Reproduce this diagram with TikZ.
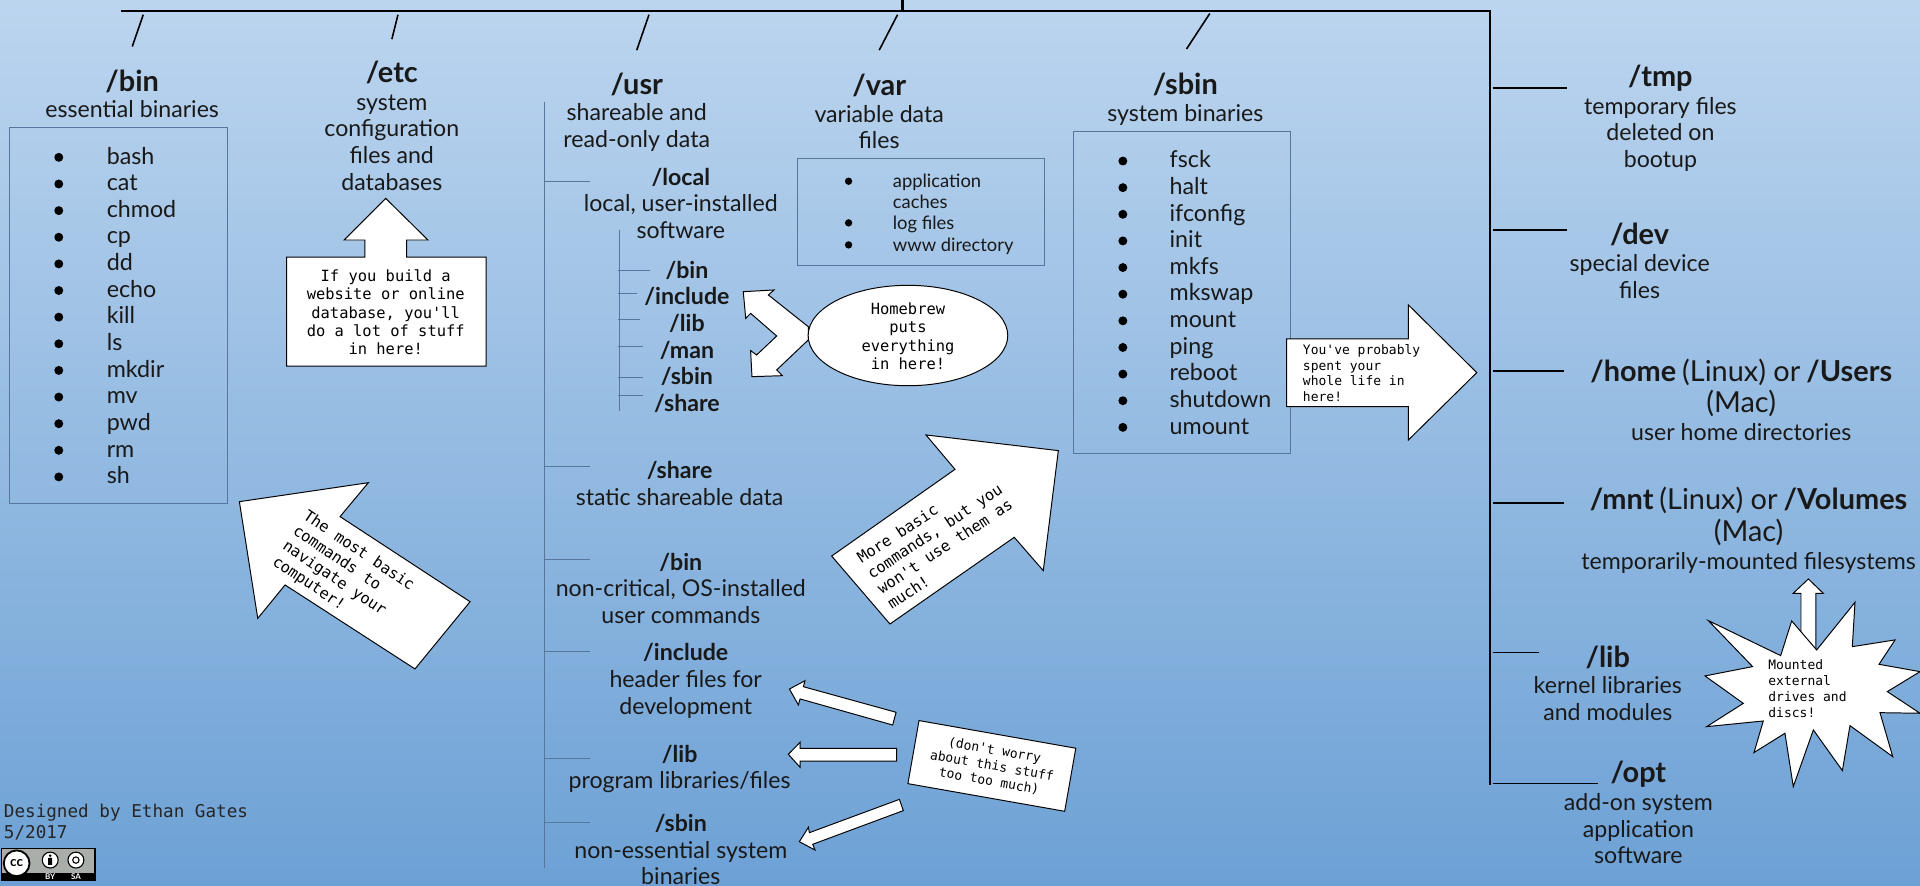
\documentclass[tikz,border=0pt]{standalone}
\usepackage{fontspec}
\usetikzlibrary{shapes.geometric}
\setmainfont{Lato}
\setmonofont{DejaVu Sans Mono}
\definecolor{bgtop}{HTML}{BCD5EF}
\definecolor{bgbot}{HTML}{6DA1D5}
\definecolor{hair}{HTML}{56779B}
\definecolor{ccgray}{HTML}{AAAEAA}
\newcommand{\hd}[1]{{\bfseries\fontsize{23.6}{24}\selectfont #1}}
\newcommand{\shd}[1]{{\bfseries #1}}
\newcommand{\bglarge}[1]{{\fontsize{23.6}{24}\selectfont #1}}
\tikzset{
  bus/.style={line width=1.8pt,black},
  tick/.style={line width=1.3pt,black},
  hairline/.style={line width=0.7pt,hair},
  lbl/.style={align=center,inner sep=0pt,text=black!90,font=\fontsize{18.9}{21.75}\selectfont},
  listbox/.style={draw=hair,line width=0.7pt,inner sep=0pt},
  listitem/.style={anchor=west,inner sep=0pt,text height=13pt,text depth=3pt,text=black!90,font=\fontsize{19}{21.75}\selectfont},
  listdot/.style={circle,fill=black,inner sep=0pt,minimum size=7.3pt},
  callout/.style={draw=black,fill=white,line width=0.8pt,line join=miter},
  say/.style={inner sep=0pt,text=black,font=\ttfamily\fontsize{12.6}{15}\selectfont},
  saysmall/.style={say,font=\ttfamily\fontsize{10.6}{12.8}\selectfont},
}
% one bullet list, items 21.75 apart
\newcommand{\bulletlist}[5]{
  \foreach \t [count=\i from 0] in {#5} {
    \node[listitem] (#1item\i) at (#3,{#4+21.75*\i}) {\t};
    \node[listdot] (#1dot\i) at (#2,{#4+21.75*\i-0.5}) {};
  }
}
\begin{document}
\begin{tikzpicture}[x=1pt,y=-1pt]
  \useasboundingbox (0,0) rectangle (1568,723);
  \shade[top color=bgtop,bottom color=bgbot] (0,0) rectangle (1568,723);

  % root line
  \coordinate (root) at (737,0);
  \coordinate (rootj) at (737,9);
  \coordinate (busw) at (99,9);
  \coordinate (buse) at (1217,9);
  \coordinate (busend) at (1217,641);
  \draw[bus] (busw) -- (buse) -- (busend);
  \draw[bus] (root) -- (rootj);
  \foreach \n/\xa/\ya/\xb/\yb in {bin/117/12/108/38,etc/325/12/320/32,usr/530/12/520/41,var/733/12/718/41,sbin/988/11/969/40} {
    \coordinate (\n top) at (\xa,\ya);
    \coordinate (\n low) at (\xb,\yb);
    \draw[tick] (\n top) -- (\n low);
  }
  \foreach \n/\y/\xe in {tmp/72/1280,dev/188/1280,home/303/1277,mnt/411/1277,lib/533/1257,opt/640/1305} {
    \coordinate (\n a) at (1219,\y);
    \coordinate (\n b) at (\xe,\y);
    \draw[tick] (\n a) -- (\n b);
  }

  % /usr tree
  \coordinate (usrtop) at (445,83);
  \coordinate (usrend) at (445,709);
  \draw[hairline] (usrtop) -- (usrend);
  \foreach \n/\y in {local/148,share/381,ubin/457,include/532,ulib/619,usbin/672} {
    \coordinate (\n a) at (445,\y);
    \coordinate (\n b) at (482,\y);
    \draw[hairline] (\n a) -- (\n b);
  }
  \coordinate (loctop) at (506,188);
  \coordinate (locend) at (506,336);
  \draw[hairline] (loctop) -- (locend);
  \foreach \n/\y/\xe in {lbin/221/531,linc/240/520,llib/261/523,lman/283/525,lsbin/308/525,lshare/323/525} {
    \coordinate (\n a) at (505,\y);
    \coordinate (\n b) at (\xe,\y);
    \draw[hairline] (\n a) -- (\n b);
  }

  % /bin
  \node[lbl] (bin) at (108,76.5) {\hd{/bin}\\essential binaries};
  \node[listbox,minimum width=178pt,minimum height=307pt] (binbox) at (97,257.5) {};
  \bulletlist{bin}{48}{87}{129}{bash,cat,chmod,cp,dd,echo,kill,ls,mkdir,mv,pwd,rm,sh}

  % /etc
  \draw[callout] (234,210) -- (298,210) -- (298,196) -- (281,196) -- (315,162) -- (349.5,196) -- (332,196) -- (332,210) -- (397,210) -- (397,299) -- (234,299) -- cycle;
  \node[lbl] (etc) at (320,102.5) {\hd{/etc}\\[1pt]system\\configuration\\files and\\databases};
  \node[say,align=center] (etcsay) at (315,255) {If you build a\\website or online\\database, you'll\\do a lot of stuff\\in here!};

  % /usr
  \node[lbl] (usr) at (520,91.5) {\hd{/usr}\\shareable and\\read-only data};
  \node[lbl] (local) at (556,166) {\shd{/local}\\local, user-installed\\software};
  \node[lbl] (lsub) at (561,275) {\shd{/bin}\\\shd{/include}\\\shd{/lib}\\\shd{/man}\\\shd{/sbin}\\\shd{/share}};
  \node[lbl] (ushare) at (555,395) {\shd{/share}\\static shareable data};
  \node[lbl] (ubin) at (556,480.5) {\shd{/bin}\\non-critical, OS-installed\\user commands};
  \node[lbl] (uinc) at (560,556) {\shd{/include}\\header files for\\development};
  \node[lbl] (ulib) at (555,628) {\shd{/lib}\\program libraries/files};
  \node[lbl] (usbin) at (556,694) {\shd{/sbin}\\non-essential system\\binaries};

  % /var
  \node[lbl] (var) at (718,91) {\hd{/var}\\variable data\\files};
  \node[listbox,minimum width=202pt,minimum height=88pt] (varbox) at (752,173) {};
  \node[listitem,align=left,text height=,text depth=,font=\fontsize{15}{17}\selectfont] (varitem0) at (729,156.5) {application\\caches};
  \node[listitem,font=\fontsize{15}{17}\selectfont] (varitem1) at (729,182.5) {log files};
  \node[listitem,font=\fontsize{15}{17}\selectfont] (varitem2) at (729,200.5) {www directory};
  \foreach \y [count=\i] in {148,182,200} {
    \node[listdot,minimum size=6pt] (vardot\i) at (693,\y) {};
  }

  % /sbin
  \node[lbl] (sbin) at (968,81) {\hd{/sbin}\\system binaries};
  \node[listbox,minimum width=177pt,minimum height=263pt] (sbinbox) at (965.5,238.5) {};
  \bulletlist{sbin}{917}{955}{132}{fsck,halt,ifconfig,init,mkfs,mkswap,mount,ping,reboot,shutdown,umount}

  % homebrew
  \draw[callout] (660.1,266.8) -- (627.5,240.9) -- (632.1,236.8) -- (607,238.2) -- (609,260) -- (613,255.9) -- (634.3,274.4) -- (617.9,289.9) -- (613,286.3) -- (614.1,307.6) -- (638.9,306.8) -- (634.3,302.1) -- (660.1,277.6) -- cycle;
  \node[callout,ellipse,minimum width=163pt,minimum height=82pt,inner sep=0pt] (brew) at (741.5,274) {};
  \node[say,align=center] (brewsay) at (741.5,274.5) {Homebrew\\puts\\everything\\in here!};

  % big arrows
  \draw[callout] (195.5,409.7) -- (300.8,394.2) -- (277.7,421.9) -- (383.9,491.4) -- (338.9,546.3) -- (232.8,477.7) -- (210.5,505) -- cycle;
  \node[say,align=left,rotate=-33.9] (navsay) at (280.3,468.7) {The most basic\\commands to\\navigate your\\computer!};
  \draw[callout] (756.2,355.2) -- (864.3,368) -- (852,466) -- (828.3,438.8) -- (726.8,509.6) -- (679.2,454.1) -- (779.9,383.3) -- cycle;
  \node[say,align=left,rotate=33.4] (moresay) at (767.4,439.9) {More basic\\commands, but you\\won't use them as\\much!};
  \draw[callout] (1050.8,276.8) -- (1150.2,276.8) -- (1150.2,249) -- (1206,304.3) -- (1150.2,359.3) -- (1150.2,332) -- (1050.8,332) -- cycle;
  \node[saysmall,align=left,anchor=west] (lifesay) at (1063.9,304.8) {You've probably\\spent your\\whole life in\\here!};

  % dont worry
  \draw[callout] (644.7,562.7) -- (657.4,555.9) -- (656.1,560.8) -- (731.8,581.7) -- (729,592.1) -- (653.4,570.8) -- (652,575.7) -- cycle;
  \draw[callout] (643.8,616) -- (653.4,606.2) -- (653.4,611.1) -- (732.3,611.1) -- (732.3,621.5) -- (653.4,621.5) -- (653.4,626.6) -- cycle;
  \draw[callout] (652.8,687.4) -- (660.2,675.6) -- (661,680) -- (734.5,652.8) -- (737.7,662) -- (663.7,689.5) -- (665.6,694.2) -- cycle;
  \node[callout,saysmall,text=black,align=center,rotate=-10,minimum width=130pt,minimum height=52.3pt] (worry) at (810,625.5) {(don't worry\\about this stuff\\too too much)};

  % right column
  \node[lbl] (tmp) at (1356,96.5) {\hd{/tmp}\\[1pt]temporary files\\deleted on\\bootup};
  \node[lbl] (dev) at (1339,213) {\hd{/dev}\\special device\\files};
  \node[lbl] (home) at (1422,326.5) {\hd{/home} \bglarge{(Linux) or} \hd{/Users}\\[3pt]\bglarge{(Mac)}\\[1pt]user home directories};
  \node[lbl] (mnt) at (1428,433) {\hd{/mnt} \bglarge{(Linux) or} \hd{/Volumes}\\[3pt]\bglarge{(Mac)}\\[1pt]temporarily-mounted filesystems};
  \node[lbl] (libdir) at (1313,558) {\hd{/lib}\\kernel libraries\\and modules};
  \node[lbl] (optdir) at (1338,663.5) {\hd{/opt}\\[1pt]add-on system\\application\\software};

  % mount burst
  \draw[callout] (1470.8,531) -- (1470.8,484.5) -- (1464.5,484.5) -- (1476.8,472.8) -- (1489,484.5) -- (1483,484.5) -- (1483,531) -- cycle;
  \draw[callout] (1395.1,506.8) -- (1454.2,535.4) -- (1463.2,507.1) -- (1483.6,530.8) -- (1514.9,491.9) -- (1512.7,528.1) -- (1547.6,522.6) -- (1534.5,542.5) -- (1568,548.5) -- (1541.3,564.8) -- (1568,582.5) -- (1535.3,582) -- (1545.7,617.9) -- (1510.8,592.6) -- (1504.6,629.3) -- (1480.9,596.1) -- (1464.5,642.4) -- (1457.7,598.8) -- (1432.4,614.6) -- (1440,588.8) -- (1393.8,593.4) -- (1423.7,574.4) -- (1392.4,552) -- (1431.3,544.4) -- cycle;
  \node[saysmall,align=left,anchor=west,font=\ttfamily\fontsize{10.6}{13}\selectfont] (mountsay) at (1444,562.5) {Mounted\\external\\drives and\\discs!};

  % credit
  \node[say,align=left,anchor=west,font=\ttfamily\fontsize{14.4}{17}\selectfont,text=black!85] (credit) at (3,671.5) {Designed by Ethan Gates\\5/2017};
  \fill[black] (1,692.5) rectangle (78,719.5);
  \fill[ccgray] (2,693.5) rectangle (77,713);
  \draw[fill=white,draw=black,line width=1.5pt] (13.6,705) circle (10.5);
  \node[inner sep=0pt,font=\bfseries\fontsize{11}{11}\selectfont] (cclogo) at (13.6,704.6) {cc};
  \draw[fill=white,draw=black,line width=0.9pt] (41,702.4) circle (6.5);
  \fill[black] (41,698.8) circle (1.2) (39.4,700.6) rectangle (42.6,706.4);
  \draw[fill=white,draw=black,line width=0.9pt] (62,702.4) circle (6.5);
  \draw[black,line width=0.9pt] (62,702.4) circle (2.6);
  \node[inner sep=0pt,text=white,font=\bfseries\fontsize{6.5}{6.5}\selectfont] (ccby) at (41,716.2) {BY};
  \node[inner sep=0pt,text=white,font=\bfseries\fontsize{6.5}{6.5}\selectfont] (ccsa) at (62,716.2) {SA};
\end{tikzpicture}
\end{document}
